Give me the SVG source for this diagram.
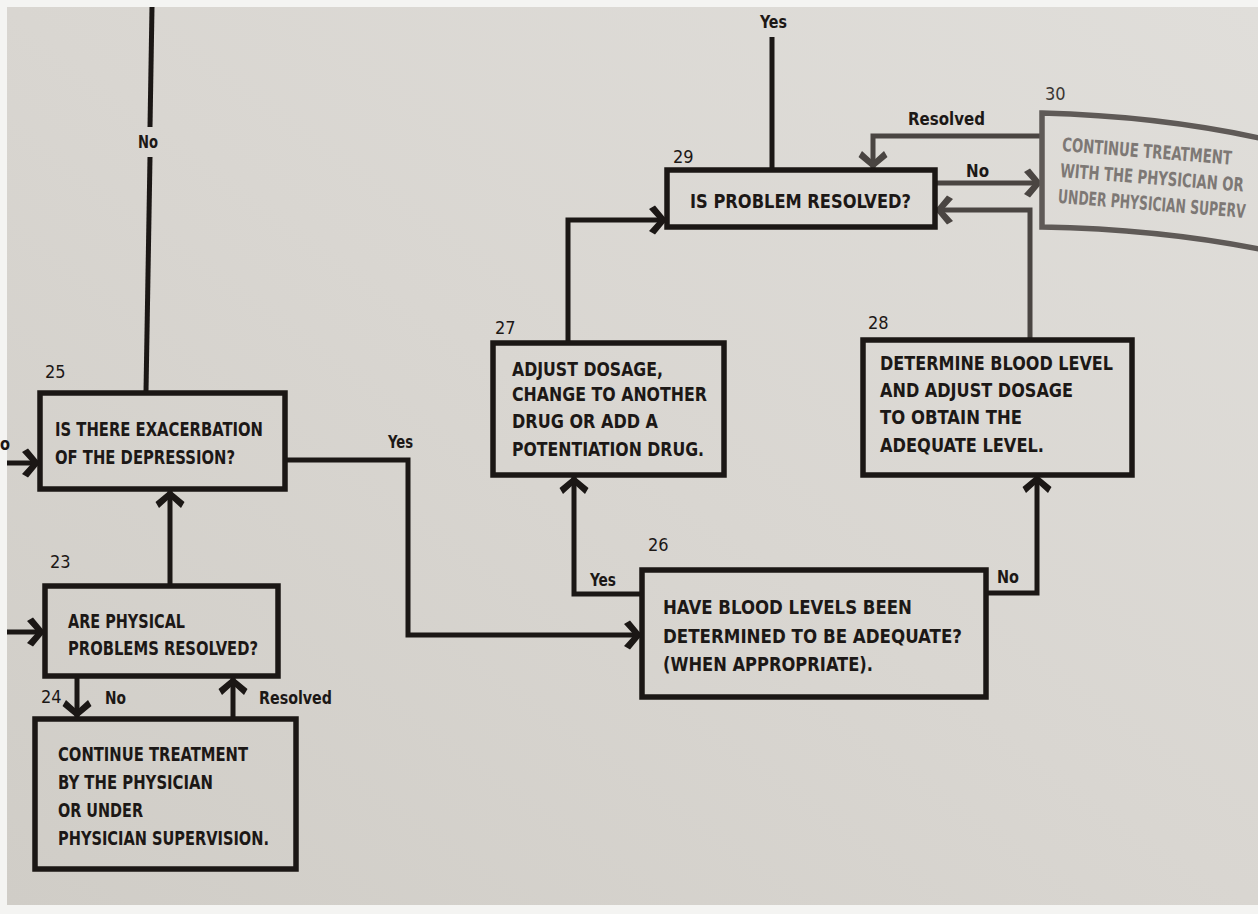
<svg xmlns="http://www.w3.org/2000/svg" width="1258" height="914" viewBox="0 0 1258 914">
<defs>
<linearGradient id="page" x1="1" y1="0" x2="0" y2="1">
<stop offset="0" stop-color="#e0deda"/>
<stop offset="0.5" stop-color="#d9d6d1"/>
<stop offset="1" stop-color="#d0cdc7"/>
</linearGradient>
<marker id="ah" markerUnits="userSpaceOnUse" markerWidth="32" markerHeight="32" viewBox="-20 -16 22 32" refX="0" refY="0" orient="auto">
<path d="M1,0 L-11,-14.5 L-17,-11 L-7,0 L-17,11 L-11,14.5 Z" fill="#1b1715"/>
</marker>
<marker id="ahg" markerUnits="userSpaceOnUse" markerWidth="32" markerHeight="32" viewBox="-20 -16 22 32" refX="0" refY="0" orient="auto">
<path d="M1,0 L-11,-14.5 L-17,-11 L-7,0 L-17,11 L-11,14.5 Z" fill="#4a4542"/>
</marker>
</defs>
<style>
.box{fill:none;stroke:#1b1715;stroke-width:5.5;stroke-linejoin:miter}
.t{font-family:"Liberation Sans Narrow","DejaVu Sans Condensed","Liberation Sans",sans-serif;font-size:20px;fill:#1c1816;font-weight:bold}
.num{font-family:"Liberation Sans Narrow","DejaVu Sans Condensed","Liberation Sans",sans-serif;font-size:18px;fill:#1c1816}
.lbl{font-family:"Liberation Sans Narrow","DejaVu Sans Condensed","Liberation Sans",sans-serif;font-size:18px;fill:#1c1816;font-weight:bold}
.c{fill:none;stroke:#1b1715;stroke-width:5;stroke-linejoin:miter}
.ca{fill:none;stroke:#1b1715;stroke-width:5;stroke-linejoin:miter;marker-end:url(#ah)}
.cga{fill:none;stroke:#4a4542;stroke-width:5;stroke-linejoin:miter;marker-end:url(#ahg)}
.g{font-family:"Liberation Sans Narrow","DejaVu Sans Condensed","Liberation Sans",sans-serif;font-size:19px;fill:#7d7875;font-weight:bold}
</style>
<rect x="0" y="0" width="1258" height="914" fill="#f4f4f2"/>
<rect x="7" y="7" width="1251" height="898" fill="url(#page)"/>

<g id="connectors">
<path class="c" d="M152,7 L150,127"/>
<path class="c" d="M150,157 L146,392"/>
<path class="ca" d="M7,463 L39,463"/>
<path class="ca" d="M170,585 L170,491"/>
<path class="ca" d="M7,632 L44,632"/>
<path class="ca" d="M77,677 L77,717"/>
<path class="ca" d="M233,717 L233,678"/>
<path class="ca" d="M287,460 L408,460 L408,635 L641,635"/>
<path class="ca" d="M642,594 L574,594 L574,477"/>
<path class="ca" d="M987,593 L1037,593 L1037,476"/>
<path class="ca" d="M568,343 L568,220 L666,220"/>
<path class="cga" d="M1030,338 L1030,210 L936,210"/>
<path class="cga" d="M937,183 L1041,183"/>
<path class="cga" d="M1042,136 L873,136 L873,168"/>
<path class="c" d="M772,37 L772,168"/>
</g>

<g id="labels">
<text class="lbl" x="138" y="148" textLength="20" lengthAdjust="spacingAndGlyphs">No</text>
<text class="lbl" x="0" y="450" textLength="10" lengthAdjust="spacingAndGlyphs">o</text>
<text class="lbl" x="388" y="448" textLength="25" lengthAdjust="spacingAndGlyphs">Yes</text>
<text class="lbl" x="105" y="704" textLength="21" lengthAdjust="spacingAndGlyphs">No</text>
<text class="lbl" x="259" y="704" textLength="73" lengthAdjust="spacingAndGlyphs">Resolved</text>
<text class="lbl" x="590" y="586" textLength="26" lengthAdjust="spacingAndGlyphs">Yes</text>
<text class="lbl" x="997" y="583" textLength="22" lengthAdjust="spacingAndGlyphs">No</text>
<text class="lbl" x="760" y="28" textLength="27" lengthAdjust="spacingAndGlyphs">Yes</text>
<text class="lbl" x="908" y="125" textLength="77" lengthAdjust="spacingAndGlyphs">Resolved</text>
<text class="lbl" x="966" y="177" textLength="23" lengthAdjust="spacingAndGlyphs">No</text>
</g>

<g id="node25">
<rect class="box" x="40" y="393" width="245" height="96"/>
<text class="num" x="45" y="378">25</text>
<text class="t" x="55" y="436" textLength="208" lengthAdjust="spacingAndGlyphs">IS THERE EXACERBATION</text>
<text class="t" x="55" y="464" textLength="180" lengthAdjust="spacingAndGlyphs">OF THE DEPRESSION?</text>
</g>

<g id="node23">
<rect class="box" x="45" y="586" width="233" height="90"/>
<text class="num" x="50" y="568">23</text>
<text class="t" x="68" y="628" textLength="117" lengthAdjust="spacingAndGlyphs">ARE PHYSICAL</text>
<text class="t" x="68" y="655" textLength="190" lengthAdjust="spacingAndGlyphs">PROBLEMS RESOLVED?</text>
</g>

<g id="node24">
<rect class="box" x="35" y="719" width="261" height="150"/>
<text class="num" x="41" y="703">24</text>
<text class="t" x="58" y="761" textLength="190" lengthAdjust="spacingAndGlyphs">CONTINUE TREATMENT</text>
<text class="t" x="58" y="789" textLength="155" lengthAdjust="spacingAndGlyphs">BY THE PHYSICIAN</text>
<text class="t" x="58" y="817" textLength="85" lengthAdjust="spacingAndGlyphs">OR UNDER</text>
<text class="t" x="58" y="845" textLength="211" lengthAdjust="spacingAndGlyphs">PHYSICIAN SUPERVISION.</text>
</g>

<g id="node26">
<rect class="box" x="642" y="570" width="344" height="127"/>
<text class="num" x="648" y="551">26</text>
<text class="t" x="663" y="614" textLength="249" lengthAdjust="spacingAndGlyphs">HAVE BLOOD LEVELS BEEN</text>
<text class="t" x="663" y="643" textLength="299" lengthAdjust="spacingAndGlyphs">DETERMINED TO BE ADEQUATE?</text>
<text class="t" x="663" y="671" textLength="210" lengthAdjust="spacingAndGlyphs">(WHEN APPROPRIATE).</text>
</g>

<g id="node27">
<rect class="box" x="493" y="343" width="231" height="132"/>
<text class="num" x="495" y="334">27</text>
<text class="t" x="512" y="376" textLength="151" lengthAdjust="spacingAndGlyphs">ADJUST DOSAGE,</text>
<text class="t" x="512" y="401" textLength="195" lengthAdjust="spacingAndGlyphs">CHANGE TO ANOTHER</text>
<text class="t" x="512" y="428" textLength="146" lengthAdjust="spacingAndGlyphs">DRUG OR ADD A</text>
<text class="t" x="512" y="456" textLength="192" lengthAdjust="spacingAndGlyphs">POTENTIATION DRUG.</text>
</g>

<g id="node28">
<rect class="box" x="863" y="340" width="269" height="135"/>
<text class="num" x="868" y="329">28</text>
<text class="t" x="880" y="370" textLength="233" lengthAdjust="spacingAndGlyphs">DETERMINE BLOOD LEVEL</text>
<text class="t" x="880" y="397" textLength="193" lengthAdjust="spacingAndGlyphs">AND ADJUST DOSAGE</text>
<text class="t" x="880" y="424" textLength="142" lengthAdjust="spacingAndGlyphs">TO OBTAIN THE</text>
<text class="t" x="880" y="452" textLength="164" lengthAdjust="spacingAndGlyphs">ADEQUATE LEVEL.</text>
</g>

<g id="node29">
<rect class="box" x="667" y="170" width="268" height="57"/>
<text class="num" x="673" y="163">29</text>
<text class="t" x="690" y="208" textLength="221" lengthAdjust="spacingAndGlyphs">IS PROBLEM RESOLVED?</text>
</g>

<g id="node30">
<path d="M1264,139 Q1160,116 1042,113 L1042,227 Q1160,229 1264,250" fill="none" stroke="#5f5a57" stroke-width="5.5"/>
<text class="num" x="1045" y="100" style="fill:#3a3633">30</text>
<g transform="rotate(4.6 1062 148)">
<text class="g" x="1062" y="151" textLength="170" lengthAdjust="spacingAndGlyphs">CONTINUE TREATMENT</text>
<text class="g" x="1062" y="177" textLength="184" lengthAdjust="spacingAndGlyphs">WITH THE PHYSICIAN OR</text>
<text class="g" x="1062" y="203" textLength="188" lengthAdjust="spacingAndGlyphs">UNDER PHYSICIAN SUPERV</text>
</g>
</g>
</svg>
